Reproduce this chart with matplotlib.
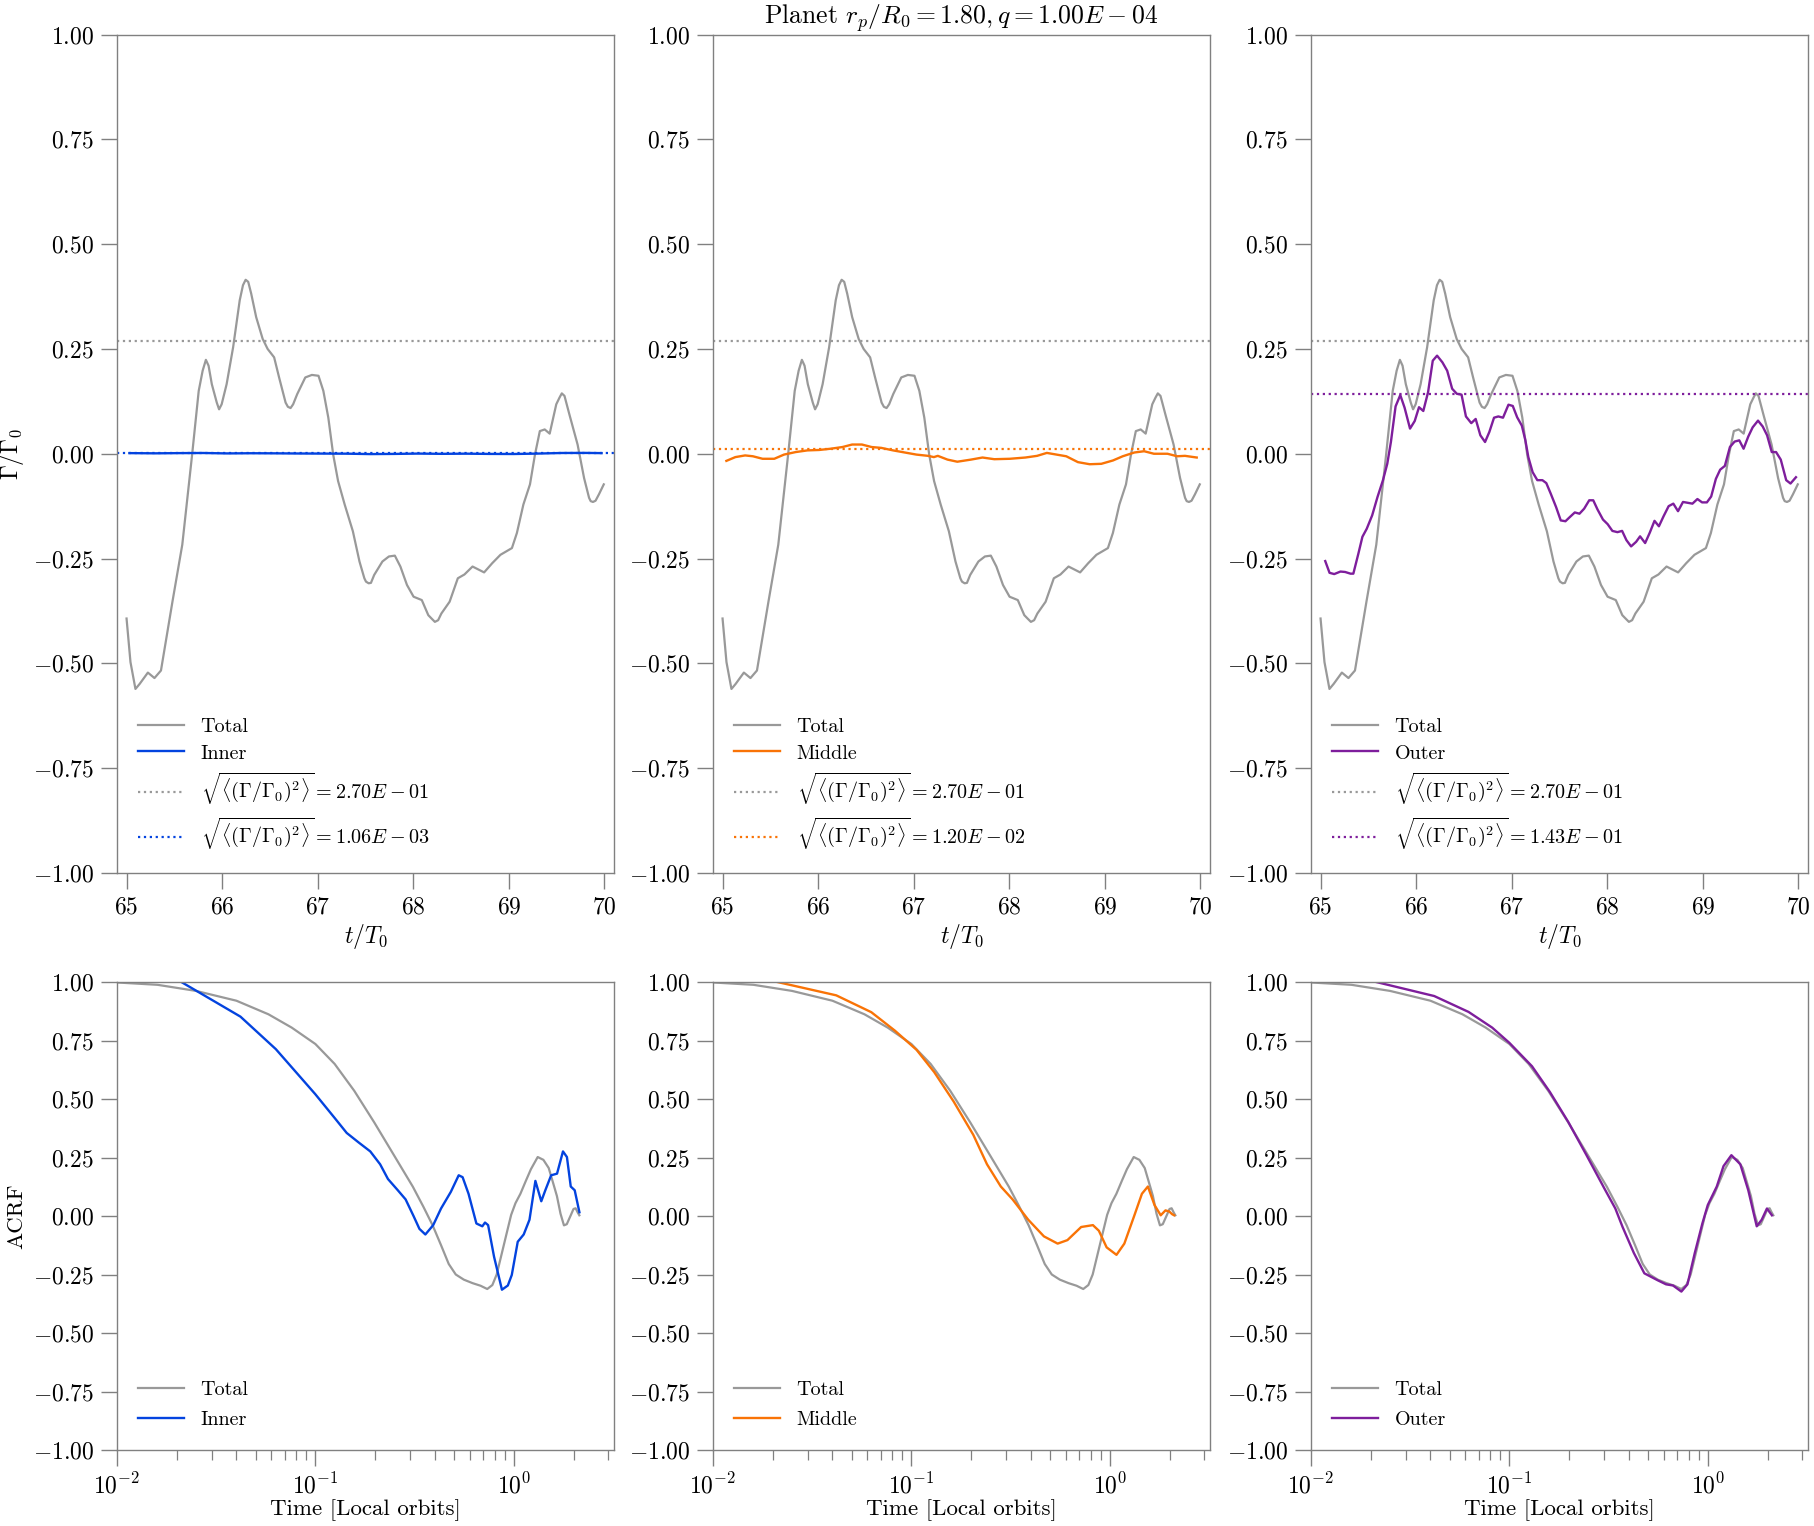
import numpy as np
import matplotlib
matplotlib.use("Agg")
import matplotlib.pyplot as plt

plt.rcParams.update({
    "font.family": "serif",
    "font.serif": ["cmr10"],
    "mathtext.fontset": "cm",
    "axes.formatter.use_mathtext": True,
    "axes.unicode_minus": True,
    "font.size": 16.5,
})

# ---------------- data: torque time series ----------------
t_total = [65.000, 65.041, 65.093, 65.137, 65.223, 65.292, 65.360, 65.480, 65.583, 65.686,
           65.755, 65.796, 65.830, 65.858, 65.892, 65.944, 65.968, 65.995, 66.047, 66.115,
           66.184, 66.218, 66.246, 66.273, 66.304, 66.356, 66.424, 66.476, 66.544, 66.596,
           66.664, 66.688, 66.716, 66.743, 66.785, 66.870, 66.939, 67.008, 67.059, 67.111,
           67.162, 67.213, 67.282, 67.368, 67.437, 67.488, 67.505, 67.533, 67.557, 67.591,
           67.677, 67.745, 67.807, 67.865, 67.934, 68.003, 68.089, 68.157, 68.191, 68.226,
           68.260, 68.294, 68.380, 68.466, 68.535, 68.620, 68.741, 68.826, 68.912, 69.032,
           69.084, 69.152, 69.221, 69.273, 69.324, 69.375, 69.427, 69.496, 69.530, 69.554,
           69.582, 69.633, 69.719, 69.787, 69.839, 69.856, 69.880, 69.907, 69.942, 69.993]
g_total = [-0.393, -0.497, -0.561, -0.549, -0.522, -0.535, -0.517, -0.353, -0.217, -0.002,
           0.150, 0.198, 0.224, 0.210, 0.166, 0.122, 0.106, 0.118, 0.166, 0.254,
           0.366, 0.402, 0.415, 0.410, 0.382, 0.326, 0.274, 0.250, 0.230, 0.182,
           0.122, 0.112, 0.109, 0.118, 0.142, 0.182, 0.188, 0.186, 0.150, 0.086,
           -0.002, -0.065, -0.121, -0.185, -0.257, -0.297, -0.305, -0.309, -0.308, -0.289,
           -0.257, -0.245, -0.243, -0.269, -0.313, -0.341, -0.349, -0.385, -0.393, -0.401,
           -0.397, -0.381, -0.353, -0.297, -0.288, -0.269, -0.283, -0.261, -0.241, -0.225,
           -0.189, -0.121, -0.073, -0.002, 0.054, 0.058, 0.048, 0.118, 0.134, 0.144,
           0.138, 0.094, 0.022, -0.058, -0.105, -0.113, -0.115, -0.112, -0.097, -0.073]

t_inner = [65.03, 65.30, 65.55, 65.80, 66.05, 66.30, 66.55, 66.80, 67.05, 67.30,
           67.55, 67.80, 68.05, 68.30, 68.55, 68.80, 69.05, 69.30, 69.55, 69.80, 69.97]
g_inner = [0.0015, 0.0010, 0.0015, 0.0018, 0.0008, 0.0012, 0.0010, 0.0006, 0.0004, 0.0002,
           -0.0008, -0.0004, 0.0004, -0.0002, 0.0002, -0.0004, -0.0006, 0.0004, 0.0018, 0.0020, 0.0015]

t_middle = [65.040, 65.134, 65.236, 65.317, 65.419, 65.541, 65.643, 65.765, 65.888, 66.010,
            66.132, 66.254, 66.356, 66.458, 66.560, 66.661, 66.784, 66.906, 67.028, 67.150,
            67.211, 67.252, 67.354, 67.456, 67.598, 67.720, 67.843, 68.006, 68.169, 68.291,
            68.393, 68.494, 68.596, 68.718, 68.841, 68.963, 69.085, 69.187, 69.309, 69.411,
            69.513, 69.655, 69.757, 69.838, 69.961]
g_middle = [-0.017, -0.008, -0.004, -0.006, -0.012, -0.012, -0.002, 0.004, 0.008, 0.009,
            0.012, 0.016, 0.022, 0.022, 0.016, 0.014, 0.008, 0.003, -0.002, -0.005,
            -0.008, -0.005, -0.014, -0.019, -0.014, -0.009, -0.013, -0.012, -0.009, -0.005,
            0.002, -0.002, -0.006, -0.020, -0.025, -0.024, -0.016, -0.006, 0.003, 0.006,
            0.000, 0.000, -0.006, -0.005, -0.009]

t_outer = [65.049, 65.094, 65.143, 65.208, 65.257, 65.313, 65.343, 65.396, 65.438, 65.483,
           65.540, 65.596, 65.653, 65.698, 65.736, 65.785, 65.834, 65.879, 65.936, 65.985,
           66.030, 66.075, 66.125, 66.174, 66.219, 66.275, 66.325, 66.377, 66.426, 66.475,
           66.521, 66.577, 66.623, 66.672, 66.721, 66.766, 66.815, 66.860, 66.909, 66.966,
           67.011, 67.057, 67.106, 67.143, 67.174, 67.219, 67.268, 67.321, 67.362, 67.408,
           67.464, 67.513, 67.562, 67.608, 67.660, 67.709, 67.758, 67.811, 67.853, 67.898,
           67.955, 68.004, 68.053, 68.106, 68.155, 68.200, 68.249, 68.302, 68.343, 68.396,
           68.445, 68.494, 68.540, 68.589, 68.642, 68.691, 68.740, 68.792, 68.842, 68.891,
           68.943, 68.992, 69.042, 69.087, 69.136, 69.181, 69.230, 69.283, 69.332, 69.381,
           69.426, 69.475, 69.521, 69.577, 69.626, 69.672, 69.721, 69.766, 69.815, 69.872,
           69.917, 69.974]
g_outer = [-0.256, -0.284, -0.287, -0.281, -0.282, -0.286, -0.286, -0.238, -0.198, -0.179,
           -0.147, -0.103, -0.063, -0.024, 0.028, 0.113, 0.140, 0.110, 0.060, 0.078,
           0.111, 0.102, 0.147, 0.222, 0.234, 0.218, 0.198, 0.155, 0.143, 0.141,
           0.089, 0.073, 0.083, 0.044, 0.028, 0.052, 0.086, 0.089, 0.086, 0.117,
           0.114, 0.087, 0.067, 0.032, -0.008, -0.044, -0.063, -0.063, -0.070, -0.095,
           -0.127, -0.159, -0.161, -0.151, -0.140, -0.143, -0.131, -0.111, -0.111, -0.133,
           -0.157, -0.168, -0.184, -0.187, -0.184, -0.206, -0.221, -0.210, -0.197, -0.213,
           -0.188, -0.160, -0.173, -0.149, -0.125, -0.119, -0.137, -0.115, -0.117, -0.119,
           -0.108, -0.116, -0.116, -0.102, -0.060, -0.038, -0.029, 0.016, 0.029, 0.032,
           0.012, 0.041, 0.063, 0.079, 0.065, 0.044, 0.004, 0.004, -0.014, -0.063,
           -0.071, -0.056]

rms_total = 2.70e-01
rms_inner = 1.06e-03
rms_middle = 1.20e-02
rms_outer = 1.43e-01

# ---------------- data: autocorrelation functions ----------------
lag_total = [0.0100, 0.0160, 0.0250, 0.0400, 0.0580, 0.0760, 0.1000, 0.1250, 0.1570, 0.1980,
             0.2480, 0.3100, 0.3500, 0.3900, 0.4300, 0.4700, 0.5100, 0.5600, 0.6200, 0.6800,
             0.7350, 0.7800, 0.8200, 0.8700, 0.9200, 0.9700, 1.0200, 1.0800, 1.1500, 1.2200,
             1.3200, 1.4100, 1.5000, 1.5800, 1.6500, 1.7200, 1.7900, 1.8500, 1.9300, 2.0000,
             2.0500, 2.1000, 2.1400]
acf_total = [0.998, 0.988, 0.962, 0.920, 0.862, 0.805, 0.735, 0.650, 0.535, 0.400,
             0.262, 0.125, 0.040, -0.040, -0.125, -0.205, -0.250, -0.272, -0.287, -0.298,
             -0.312, -0.295, -0.250, -0.160, -0.075, 0.005, 0.055, 0.095, 0.150, 0.200,
             0.252, 0.240, 0.205, 0.140, 0.085, 0.010, -0.040, -0.035, 0.000, 0.030,
             0.033, 0.015, 0.003]

lag_inner = [0.0211, 0.0419, 0.0632, 0.0998, 0.1253, 0.1438, 0.1648, 0.1891, 0.2120, 0.2322,
             0.2603, 0.2849, 0.3124, 0.3345, 0.3583, 0.3925, 0.4298, 0.4815, 0.5276, 0.5521,
             0.5915, 0.6479, 0.6942, 0.7161, 0.7424, 0.7953, 0.8716, 0.9334, 0.9770, 1.047,
             1.122, 1.200, 1.285, 1.376, 1.442, 1.543, 1.652, 1.770, 1.853, 1.937,
             2.028, 2.142]
acf_inner = [1.000, 0.852, 0.713, 0.521, 0.418, 0.355, 0.315, 0.276, 0.221, 0.158,
             0.110, 0.071, 0.000, -0.055, -0.079, -0.039, 0.032, 0.103, 0.174, 0.166,
             0.095, -0.032, -0.044, -0.028, -0.039, -0.174, -0.315, -0.297, -0.252, -0.110,
             -0.079, -0.016, 0.150, 0.063, 0.110, 0.174, 0.181, 0.276, 0.252, 0.126,
             0.110, 0.016]

lag_middle = [0.0211, 0.0418, 0.0628, 0.0826, 0.1062, 0.1303, 0.1634, 0.2051, 0.2405, 0.2823,
              0.3236, 0.3882, 0.4656, 0.5460, 0.6118, 0.7175, 0.8222, 0.8810, 0.9640, 1.081,
              1.184, 1.327, 1.452, 1.556, 1.680, 1.806, 1.909, 1.997, 2.060, 2.110]
acf_middle = [1.000, 0.943, 0.871, 0.792, 0.710, 0.615, 0.489, 0.347, 0.221, 0.126,
              0.071, -0.016, -0.087, -0.118, -0.103, -0.047, -0.039, -0.063, -0.134, -0.166,
              -0.118, 0.000, 0.095, 0.126, 0.047, 0.003, 0.024, 0.019, 0.008, 0.003]

lag_outer = [0.0213, 0.0418, 0.0623, 0.0819, 0.1000, 0.1300, 0.1600, 0.1980, 0.2440, 0.3010,
             0.3420, 0.3720, 0.4240, 0.4790, 0.5600, 0.6160, 0.6680, 0.7360, 0.7900, 0.8600,
             0.9390, 1.000, 1.110, 1.200, 1.315, 1.459, 1.600, 1.765, 1.870, 1.987, 2.105]
acf_outer = [1.000, 0.940, 0.872, 0.805, 0.740, 0.640, 0.530, 0.402, 0.262, 0.118,
             0.032, -0.047, -0.158, -0.245, -0.275, -0.292, -0.297, -0.323, -0.292, -0.158,
             -0.032, 0.047, 0.126, 0.213, 0.260, 0.221, 0.110, -0.044, -0.016, 0.032, 0.003]

regions = ["Inner", "Middle", "Outer"]
colors = ["#0343df", "#f97306", "#7e1e9c"]
gray = "#999999"
series_t = [(t_inner, g_inner), (t_middle, g_middle), (t_outer, g_outer)]
series_acf = [(lag_inner, acf_inner), (lag_middle, acf_middle), (lag_outer, acf_outer)]
rms_vals = [rms_inner, rms_middle, rms_outer]
yticks = [-1.0, -0.75, -0.5, -0.25, 0.0, 0.25, 0.5, 0.75, 1.0]
xticks_top = [65, 66, 67, 68, 69, 70]

def fmt_e(v):
    m, e = f"{v:.2E}".split("E")
    sign = "-" if e.startswith("-") else "+"
    return rf"{m}E {sign} {e[1:]}"

W, H = 1814, 1526
fig = plt.figure(figsize=(W / 100, H / 100), dpi=100)

lefts = [117, 713, 1311]
pw = 497
top_row = (34.5, 873)
bot_row = (982, 1450)

spine_col = "#808080"
TICK = 17
LAB = 16.5
LEG = 14.5

def style(ax):
    for s in ax.spines.values():
        s.set_color(spine_col)
        s.set_linewidth(1.0)
    ax.tick_params(which="major", direction="out", length=11.5, width=1.0,
                   color=spine_col, labelsize=TICK, pad=5)
    ax.tick_params(which="minor", direction="out", length=7, width=0.9,
                   color=spine_col)

for i, reg in enumerate(regions):
    x0 = lefts[i] / W
    # top row
    ax = fig.add_axes([x0, 1 - top_row[1] / H, pw / W, (top_row[1] - top_row[0]) / H])
    style(ax)
    ax.plot(t_total, g_total, color=gray, lw=1.6, label="Total")
    tt, gg = series_t[i]
    ax.plot(tt, gg, color=colors[i], lw=1.7, label=reg)
    ax.axhline(rms_total, color=gray, ls=":", lw=1.6,
               label=r"$\sqrt{\langle(\Gamma/\Gamma_0)^2\rangle} = " + fmt_e(rms_total) + "$")
    ax.axhline(rms_vals[i], color=colors[i], ls=":", lw=1.6,
               label=r"$\sqrt{\langle(\Gamma/\Gamma_0)^2\rangle} = " + fmt_e(rms_vals[i]) + "$")
    ax.set_xlim(64.9, 70.1)
    ax.set_ylim(-1, 1)
    ax.set_xticks(xticks_top)
    ax.set_yticks(yticks)
    ax.set_xlabel(r"$t/T_0$", fontsize=LAB + 0.5, labelpad=3)
    if i == 0:
        ax.set_ylabel(r"$\Gamma/\Gamma_0$", fontsize=LAB + 0.5, labelpad=5)
    if i == 1:
        ax.set_title(r"Planet $r_p/R_0 = 1.80, q = 1.00E - 04$", fontsize=18.5, pad=3)
    ax.legend(loc="lower left", frameon=False, fontsize=LEG, handlelength=2.3,
              labelspacing=0.42, borderaxespad=0.65)

    # bottom row
    bx = fig.add_axes([x0, 1 - bot_row[1] / H, pw / W, (bot_row[1] - bot_row[0]) / H])
    style(bx)
    bx.plot(lag_total, acf_total, color=gray, lw=1.6, label="Total")
    ll, aa = series_acf[i]
    bx.plot(ll, aa, color=colors[i], lw=1.7, label=reg)
    bx.set_xscale("log")
    bx.set_xlim(1e-2, 3.2)
    bx.set_ylim(-1, 1)
    bx.set_yticks(yticks)
    bx.set_xlabel("Time [Local orbits]", fontsize=LAB, labelpad=1)
    if i == 0:
        bx.set_ylabel("ACRF", fontsize=LAB, labelpad=5)
    bx.legend(loc="lower left", frameon=False, fontsize=LEG, handlelength=2.3,
              labelspacing=0.6, borderaxespad=0.65)

fig.savefig("out.png", dpi=100)
